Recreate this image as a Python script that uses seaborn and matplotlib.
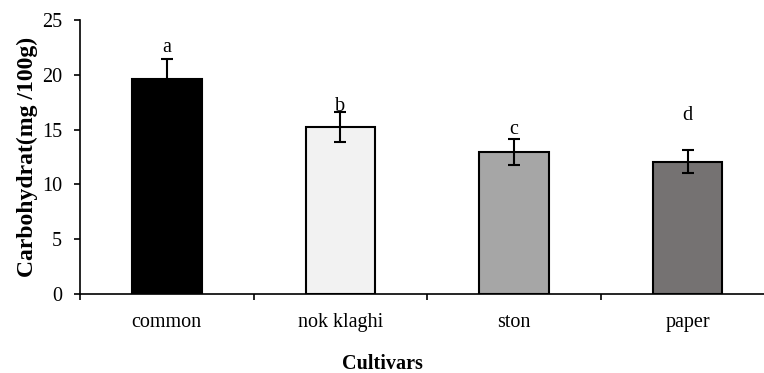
import numpy as np
import pandas as pd
import seaborn as sns
import matplotlib.pyplot as plt

cultivars = ['common', 'nok klaghi', 'ston', 'paper']
carbohydrate = [19.65, 15.25, 12.95, 12.05]
std_err = [1.75, 1.35, 1.15, 1.05]
letters = ['a', 'b', 'c', 'd']
letter_y = [22.5, 17.1, 15.0, 16.3]
bar_colors = ['#000000', '#f2f2f2', '#a6a6a6', '#767171']

sns.set_theme(style='ticks')
plt.rcParams['font.family'] = ['Liberation Serif', 'DejaVu Serif']

df = pd.DataFrame({'cultivar': cultivars, 'value': carbohydrate})

fig = plt.figure(figsize=(7.64, 3.73), dpi=100)
ax = fig.add_axes([0.1047, 0.2118, 0.8953, 0.7346])

sns.barplot(data=df, x='cultivar', y='value', hue='cultivar', palette=bar_colors,
            width=0.4, edgecolor='black', linewidth=1.5, legend=False, ax=ax)
ax.errorbar(np.arange(len(cultivars)), carbohydrate, yerr=std_err, fmt='none',
            ecolor='black', elinewidth=1.5, capsize=4.3, capthick=1.5)

for i, (lt, y) in enumerate(zip(letters, letter_y)):
    ax.text(i, y, lt, ha='center', va='center', fontsize=14.5, color='black')

ax.set_xlim(-0.5, 3.44)
ax.set_ylim(0, 25)
ax.set_yticks([0, 5, 10, 15, 20, 25])
ax.set_xticks(np.arange(len(cultivars)))
ax.set_xticklabels(cultivars)
ax.set_xticks([-0.5, 0.5, 1.5, 2.5], minor=True)
ax.tick_params(axis='x', which='major', length=0, pad=14, labelsize=14.5, colors='black')
ax.tick_params(axis='x', which='minor', length=4, width=1.2, direction='out', color='black')
ax.tick_params(axis='y', length=4, width=1.2, labelsize=14.5, colors='black', pad=9)

sns.despine(ax=ax)
for s in ['left', 'bottom']:
    ax.spines[s].set_color('black')
    ax.spines[s].set_linewidth(1.2)

ax.set_ylabel('Carbohydrat(mg /100g)', fontsize=17, fontweight='bold', color='black', labelpad=3)
ax.set_xlabel('Cultivars', fontsize=14.5, fontweight='bold', color='black')
# the x title sits at the centre of the whole figure, not of the axes
ax.xaxis.set_label_coords(0.4415, -0.22)

fig.savefig('out.png', dpi=100)
